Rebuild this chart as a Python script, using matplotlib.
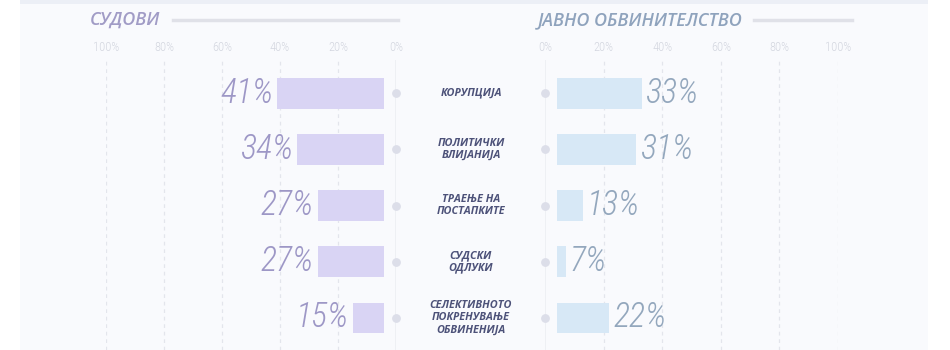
import numpy as np
import matplotlib
matplotlib.use("Agg")
from matplotlib import pyplot as plt
from matplotlib.patches import Rectangle
import matplotlib.transforms as mtransforms

# ---------------- data
categories = ["КОРУПЦИЈА", "ПОЛИТИЧКИ\nВЛИЈАНИЈА", "ТРАЕЊЕ НА\nПОСТАПКИТЕ",
              "СУДСКИ\nОДЛУКИ", "СЕЛЕКТИВНОТО\nПОКРЕНУВАЊЕ\nОБВИНЕНИЈА"]
courts = [41, 34, 27, 27, 15]
prosecution = [33, 31, 13, 7, 22]
ticks = [0, 20, 40, 60, 80, 100]
tick_labels = ["0%", "20%", "40%", "60%", "80%", "100%"]
title_left = "СУДОВИ"
title_right = "ЈАВНО ОБВИНИТЕЛСТВО"

W, H = 950, 350
fig = plt.figure(figsize=(W / 100, H / 100), dpi=100)
fig.patch.set_facecolor("white")

def px(x0, y0, x1, y1):
    # pixel box -> figure fraction rect
    return [x0 / W, 1 - y1 / H, (x1 - x0) / W, (y1 - y0) / H]

# background panel
fig.patches.append(Rectangle((20 / W, 0), 908 / W, 1 - 4 / H, transform=fig.transFigure,
                             facecolor="#f9fafd", edgecolor="none", zorder=-10))
fig.patches.append(Rectangle((20 / W, 1 - 4 / H), 908 / W, 4 / H, transform=fig.transFigure,
                             facecolor="#eceff6", edgecolor="none", zorder=-10))

ax_l = fig.add_axes(px(106, 60, 396, 350))
ax_r = fig.add_axes(px(545, 60, 838, 350))

ypos = np.arange(len(categories))
gap = 4
num_font = dict(family="Roboto Condensed", weight=300)

for ax, vals, col, tcol, side in [(ax_l, courts, "#d9d4f4", "#9d97c6", "l"),
                                   (ax_r, prosecution, "#d7e8f6", "#93a7bd", "r")]:
    ax.set_facecolor("none")
    ax.set_xlim(0, 100)
    if side == "l":
        ax.invert_xaxis()
    ax.set_ylim(4.57, -0.59)
    for s in ax.spines.values():
        s.set_visible(False)
    ax.xaxis.tick_top()
    ax.set_xticks(ticks)
    ax.set_xticklabels(tick_labels, fontsize=9, color="#d3d6df", **num_font)
    ax.tick_params(axis="x", length=0, pad=4)
    ax.set_yticks([])
    for t in ticks[1:]:
        ax.axvline(t, color="#e3e5ec", lw=0.9, ls=(0, (3, 3)), zorder=0)
    ax.axvline(0, color="#eceef3", lw=1.2, zorder=0)
    ax.barh(ypos, [v - gap for v in vals], left=gap, height=0.55, color=col, zorder=2)
    ax.scatter([0] * len(vals), ypos, s=28, color="#dcdee9", zorder=3, clip_on=False)
    for y, v in zip(ypos, vals):
        ax.text(v + 1.3, y, f"{v}%", ha="right" if side == "l" else "left", va="center",
                fontsize=24.5, style="italic", color=tcol, **num_font)

# category labels in the middle
trans = mtransforms.blended_transform_factory(fig.transFigure, ax_l.transData)
for y, c in zip(ypos, categories):
    fig.text(471 / W, y, c, transform=trans, ha="center", va="center", fontsize=7.8,
             fontweight="bold", style="italic", color="#4d5279",
             family="Open Sans", linespacing=1.2)

# titles and rules
fig.text(90 / W, 1 - 20 / H, title_left, ha="left", va="center", fontsize=13,
         style="italic", weight="semibold", color="#a19cc6", family="Open Sans")
fig.lines.append(plt.Line2D([173 / W, 398 / W], [1 - 20 / H] * 2, transform=fig.transFigure,
                            color="#e0e1e8", lw=2.5))
fig.text(538 / W, 1 - 20 / H, title_right, ha="left", va="center", fontsize=13,
         style="italic", weight="semibold", color="#8fa3bd", family="Open Sans")
fig.lines.append(plt.Line2D([754 / W, 852 / W], [1 - 20 / H] * 2, transform=fig.transFigure,
                            color="#e0e1e8", lw=2.5))

fig.savefig("out.png", dpi=100, facecolor=fig.get_facecolor())
